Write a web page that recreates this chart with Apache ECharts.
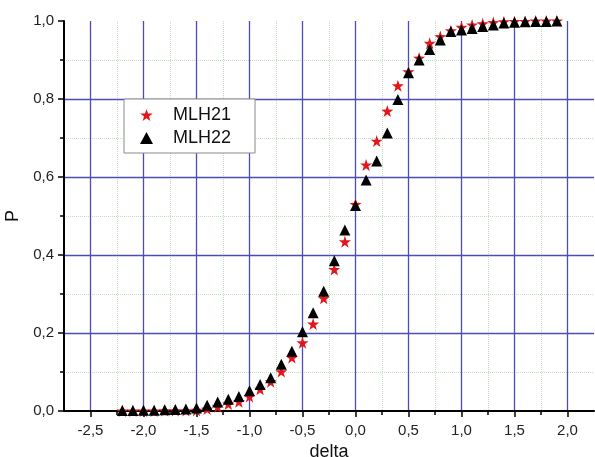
<!DOCTYPE html>
<html>
<head>
<meta charset="utf-8">
<script src="https://cdn.jsdelivr.net/npm/echarts@6/dist/echarts.min.js"></script>
<style>
  html, body { margin: 0; padding: 0; background: #fff; }
  #chart { width: 595px; height: 457px; }
</style>
</head>
<body>
<div id="chart"></div>
<script>
  // delta values of the points
  var deltaValues = [-2.2, -2.1, -2.0, -1.9, -1.8, -1.7, -1.6, -1.5, -1.4, -1.3, -1.2, -1.1, -1.0, -0.9,
    -0.8, -0.7, -0.6, -0.5, -0.4, -0.3, -0.2, -0.1, 0.0, 0.1, 0.2, 0.3, 0.4, 0.5, 0.6, 0.7,
    0.8, 0.9, 1.0, 1.1, 1.2, 1.3, 1.4, 1.5, 1.6, 1.7, 1.8, 1.9]
  var mlh21 = [0.0, 0.0, 0.0, 0.0, 0.001, 0.001, 0.001, 0.002, 0.005, 0.011, 0.018, 0.024, 0.037, 0.056,
    0.075, 0.101, 0.137, 0.175, 0.223, 0.289, 0.363, 0.434, 0.53, 0.631, 0.692, 0.769, 0.834, 0.87, 0.905, 0.943,
    0.96, 0.975, 0.984, 0.99, 0.993, 0.996, 0.998, 0.999, 0.999, 1.0, 1.0, 1.0]
  var mlh22 = [0.001, 0.001, 0.002, 0.002, 0.003, 0.004, 0.005, 0.008, 0.015, 0.023, 0.03, 0.037, 0.052, 0.068,
    0.085, 0.12, 0.153, 0.203, 0.252, 0.307, 0.385, 0.464, 0.527, 0.592, 0.641, 0.713, 0.799, 0.867, 0.9, 0.927,
    0.951, 0.973, 0.977, 0.981, 0.986, 0.99, 0.995, 0.997, 0.998, 0.999, 0.999, 1.0]
  var xMajorTicks = [-2.5, -2.0, -1.5, -1.0, -0.5, 0.0, 0.5, 1.0, 1.5, 2.0]
  var xMinorTicks = [-2.25, -1.75, -1.25, -0.75, -0.25, 0.25, 0.75, 1.25, 1.75]
  var seriesNames = ['MLH21', 'MLH22']

  var starPath = 'path://M50,0 L61.8,35.1 L98.9,35.5 L69.1,57.7 L80.2,93.1 L50,71.7 L19.8,93.1 L30.9,57.7 L1.1,35.5 L38.2,35.1 Z'
  var majorColor = '#4c4cb4'
  var minorColor = '#c2dfc2'
  var font = 'Liberation Sans, Arial, sans-serif'

  function pairs(ys) {
    return deltaValues.map(function (x, i) { return [x, ys[i]] })
  }
  function comma(v) {
    return v.toFixed(1).replace('.', ',')
  }

  var chart = echarts.init(document.getElementById('chart'), null, { renderer: 'canvas' })
  chart.setOption({
    backgroundColor: '#fff',
    animation: false,
    textStyle: { fontFamily: font },
    grid: {
      left: 64,
      right: 1,
      top: 21,
      bottom: 46,
      outerBoundsMode: 'none'
    },
    legend: {
      data: seriesNames,
      orient: 'vertical',
      left: 124,
      top: 99,
      padding: [7, 24, 6, 16],
      itemWidth: 13,
      itemHeight: 12,
      itemGap: 5,
      backgroundColor: '#fff',
      borderColor: '#8a8a8a',
      borderWidth: 1,
      textStyle: {
        fontSize: 18,
        color: '#111',
        fontFamily: font,
        padding: [0, 0, 0, 15]
      }
    },
    xAxis: [
      {
        type: 'value',
        min: -2.75,
        max: 2.25,
        interval: 0.25,
        position: 'bottom',
        z: 3,
        name: 'delta',
        nameLocation: 'middle',
        nameGap: 30,
        nameTextStyle: { fontSize: 18, color: '#111', fontFamily: font },
        axisLine: { onZero: false, lineStyle: { color: '#000', width: 2 } },
        axisTick: { customValues: xMajorTicks, length: 6, lineStyle: { color: '#000', width: 1.5 } },
        axisLabel: {
          customValues: xMajorTicks,
          fontSize: 15,
          color: '#222',
          margin: 12,
          formatter: comma
        },
        splitLine: { show: true, showMinLine: true, showMaxLine: true, lineStyle: { color: majorColor, width: 1.3 } }
      },
      {
        // minor grid of 0,25
        type: 'value',
        min: -2.75,
        max: 2.25,
        interval: 0.25,
        position: 'bottom',
        z: 1,
        axisLine: { show: false, onZero: false },
        axisTick: { customValues: xMinorTicks, length: 4, lineStyle: { color: '#000', width: 1.5 } },
        axisLabel: { show: false },
        splitLine: { show: true, showMinLine: true, showMaxLine: true, lineStyle: { color: minorColor, width: 1, type: 'dotted' } }
      }
    ],
    yAxis: {
      type: 'value',
      min: 0,
      max: 1,
      interval: 0.2,
      z: 3,
      name: 'P',
      nameLocation: 'middle',
      nameGap: 39,
      nameRotate: 90,
      nameTextStyle: { fontSize: 18, color: '#111', fontFamily: font },
      axisLine: { onZero: false, lineStyle: { color: '#000', width: 2 } },
      axisTick: { length: 6, lineStyle: { color: '#000', width: 1.5 } },
      minorTick: { show: true, splitNumber: 2, length: 4, lineStyle: { color: '#000', width: 1.5 } },
      axisLabel: { fontSize: 15, color: '#222', margin: 10, formatter: comma },
      splitLine: { show: true, showMinLine: false, showMaxLine: false, lineStyle: { color: majorColor, width: 1.3 } },
      minorSplitLine: { show: true, lineStyle: { color: minorColor, width: 1, type: 'dotted' } }
    },
    series: [
      {
        name: 'MLH21',
        type: 'scatter',
        z: 5,
        symbol: starPath,
        symbolSize: 12,
        itemStyle: { color: '#e3161b', opacity: 1 },
        data: pairs(mlh21)
      },
      {
        name: 'MLH22',
        type: 'scatter',
        z: 6,
        symbol: 'triangle',
        symbolSize: 11,
        itemStyle: { color: '#000', opacity: 1 },
        data: pairs(mlh22)
      }
    ]
  })
</script>
</body>
</html>
